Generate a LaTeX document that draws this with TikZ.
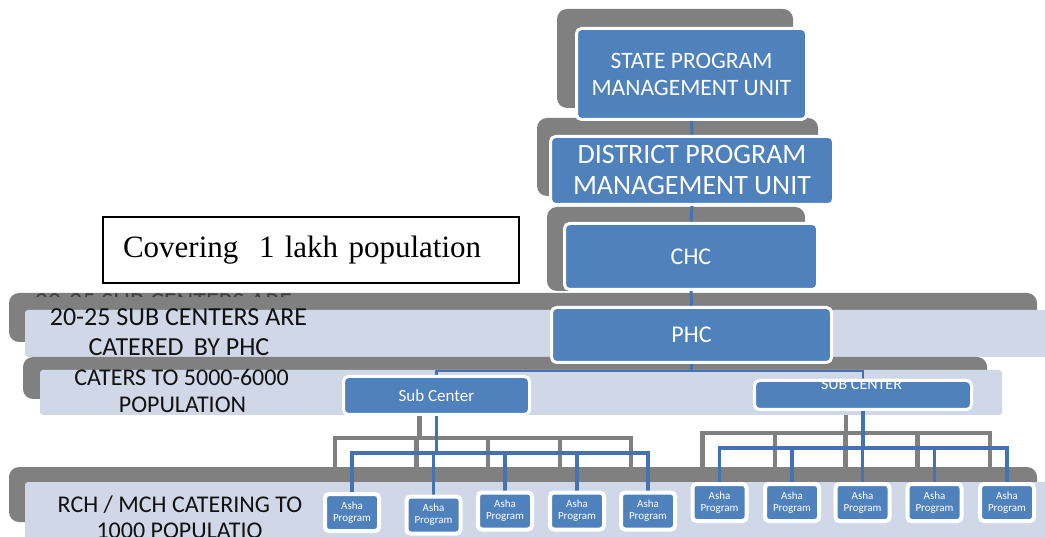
\documentclass[tikz,border=0pt]{standalone}
\usepackage{fontspec}
\setmainfont{Carlito}
\newfontfamily\timesfont{Liberation Serif}
\pgfdeclarelayer{back}
\pgfdeclarelayer{shadowconn}
\pgfdeclarelayer{bands}
\pgfdeclarelayer{conn}
\pgfsetlayers{back,shadowconn,bands,conn,main}

\definecolor{boxblue}{HTML}{4F81BD}
\definecolor{lineblue}{RGB}{69,114,176}
\definecolor{bandlight}{HTML}{D0D8E8}
\definecolor{shadowgray}{HTML}{808080}
\definecolor{ghostink}{HTML}{404040}
\definecolor{bandink}{HTML}{111111}

\tikzset{
  unitbox/.style={draw=white, line width=3pt, fill=boxblue, rounded corners=5pt,
    inner sep=0pt, text=white, align=center},
  ashabox/.style={draw=white, line width=4pt, fill=boxblue, rounded corners=4pt,
    inner sep=0pt, text=white, align=center, minimum width=54pt, minimum height=37pt,
    font=\fontsize{11}{12}\selectfont},
  bandtext/.style={anchor=base, text=bandink, inner sep=0pt},
  shade/.style={fill=shadowgray, rounded corners=10pt},
  band/.style={fill=bandlight, rounded corners=3pt},
  vlink/.style={draw=lineblue, line width=3pt},
  bus/.style={draw=lineblue, line width=2.6pt},
  link/.style={draw=lineblue, line width=3.5pt},
  ghostlink/.style={draw=shadowgray, line width=4.5pt},
}

\begin{document}
\begin{tikzpicture}[x=1pt,y=-1pt]
\useasboundingbox (0,0) rectangle (1045,537);

% ---------- management chain ----------
\node[unitbox, minimum width=230pt, minimum height=91pt,
      font=\fontsize{23.5}{27}\selectfont] (spmu) at (691.5,74)
      {STATE PROGRAM\\MANAGEMENT UNIT};
\node[unitbox, minimum width=283pt, minimum height=68pt,
      font=\fontsize{28}{31}\selectfont] (dpmu) at (692,170.5)
      {DISTRICT PROGRAM\\MANAGEMENT UNIT};
\node[unitbox, minimum width=253pt, minimum height=66pt,
      font=\fontsize{24}{28}\selectfont] (chc) at (691,256.5) {CHC};
\node[unitbox, minimum width=280pt, minimum height=55pt,
      font=\fontsize{24}{28}\selectfont] (phc) at (691.5,335) {PHC};

% ---------- sub centres ----------
\node[unitbox, minimum width=186pt, minimum height=38pt,
      font=\fontsize{17}{20}\selectfont] (subL) at (436.5,395.5) {Sub Center};
\node[unitbox, minimum width=217pt, minimum height=29pt] (subR) at (863,395) {};
\begin{scope}
  \clip (subR.north west) rectangle (subR.south east);
  \node[anchor=base, inner sep=0pt, text=white,
        font=\fontsize{16}{18}\selectfont] (subRtext) at (861.5,390) {SUB CENTER};
\end{scope}

% ---------- Asha programmes ----------
\node[ashabox] (a1) at (352,512.5) {Asha\\Program};
\node[ashabox] (a2) at (433.5,515) {Asha\\Program};
\node[ashabox] (a3) at (505,511) {Asha\\Program};
\node[ashabox] (a4) at (577,511) {Asha\\Program};
\node[ashabox] (a5) at (648,511) {Asha\\Program};
\node[ashabox] (b1) at (719.5,502.5) {Asha\\Program};
\node[ashabox] (b2) at (792,502.5) {Asha\\Program};
\node[ashabox] (b3) at (862.5,502.5) {Asha\\Program};
\node[ashabox] (b4) at (934.5,502.5) {Asha\\Program};
\node[ashabox] (b5) at (1007,502.5) {Asha\\Program};

% ---------- note ----------
\node[draw=black, line width=1.1pt, fill=white, inner xsep=20pt, inner ysep=0pt,
      text width=376pt, align=left, minimum height=66pt,
      font=\timesfont\fontsize{31}{35}\selectfont] (note) at (311,250)
      {Covering\ \ 1 lakh population};

% ---------- back: shadows of the chain and the PHC band ----------
\begin{pgfonlayer}{back}
  \fill[shade] (557,9) rectangle (793,108);
  \fill[shade] (537,118) rectangle (818,196);
  \fill[shade] (547,207) rectangle (805,291);
  \fill[shade] (9,293) rectangle (1037,342);
  \begin{scope}
    \clip (0,291) rectangle (400,296.5);
    \node[bandtext, text=ghostink, font=\fontsize{26}{30}\selectfont]
      (ghost) at (163.5,311) {20-25 SUB CENTERS ARE};
  \end{scope}
  \fill[band] (25,310) rectangle (1048,357);
  \node[bandtext, font=\fontsize{26}{30}\selectfont] (t1a) at (178.5,326) {20-25 SUB CENTERS ARE};
  \node[bandtext, font=\fontsize{26}{30}\selectfont] (t1b) at (179,356) {CATERED\ \,BY PHC};
\end{pgfonlayer}

% ---------- shadow copies of the Asha connectors ----------
\begin{pgfonlayer}{shadowconn}
  \begin{scope}[transform canvas={shift={(-17,-15)}}]
    \coordinate (lbusS) at (436.5,453);
    \draw[ghostlink] (subL.south) -- (lbusS);
    \foreach \t in {a1,a2,a3,a4,a5} \draw[ghostlink] (lbusS) -| (\t.north);
    \coordinate (rbusS) at (863,448);
    \draw[ghostlink] (subR.south) -- (rbusS);
    \foreach \t in {b1,b2,b3,b4,b5} \draw[ghostlink] (rbusS) -| (\t.north);
  \end{scope}
\end{pgfonlayer}

% ---------- sub-centre and Asha bands ----------
\begin{pgfonlayer}{bands}
  \fill[shade] (23,357) rectangle (987,399);
  \fill[band] (40,370) rectangle (1002,415);
  \node[bandtext, font=\fontsize{24}{28}\selectfont] (t2a) at (181.5,386) {CATERS TO 5000-6000};
  \node[bandtext, font=\fontsize{24}{28}\selectfont] (t2b) at (182.5,413) {POPULATION};
  \fill[shade] (9,467) rectangle (1037,522);
  \fill[band] (25,482) rectangle (1048,545);
  \node[bandtext, font=\fontsize{24}{28}\selectfont] (t3a) at (180,512) {RCH / MCH CATERING TO};
  \node[bandtext, font=\fontsize{24}{28}\selectfont] (t3b) at (179.5,538) {1000 POPULATIO};
\end{pgfonlayer}

% ---------- connectors ----------
\begin{pgfonlayer}{conn}
  \draw[vlink] (spmu.south) -- (dpmu.north);
  \draw[vlink] (dpmu.south) -- (chc.north);
  \draw[vlink] (chc.south) -- (phc.north);
  \coordinate (phcbus) at (691.5,371);
  \draw[bus] (phc.south) -- (phcbus) -| (subL.north);
  \draw[bus] (phcbus) -| (subR.north);
  \coordinate (lbus) at (436.5,453);
  \draw[link] (subL.south) -- (lbus);
  \foreach \t in {a1,a2,a3,a4,a5} \draw[link] (lbus) -| (\t.north);
  \coordinate (rbus) at (863,448);
  \draw[link] (subR.south) -- (rbus);
  \foreach \t in {b1,b2,b3,b4,b5} \draw[link] (rbus) -| (\t.north);
\end{pgfonlayer}
\end{tikzpicture}
\end{document}
